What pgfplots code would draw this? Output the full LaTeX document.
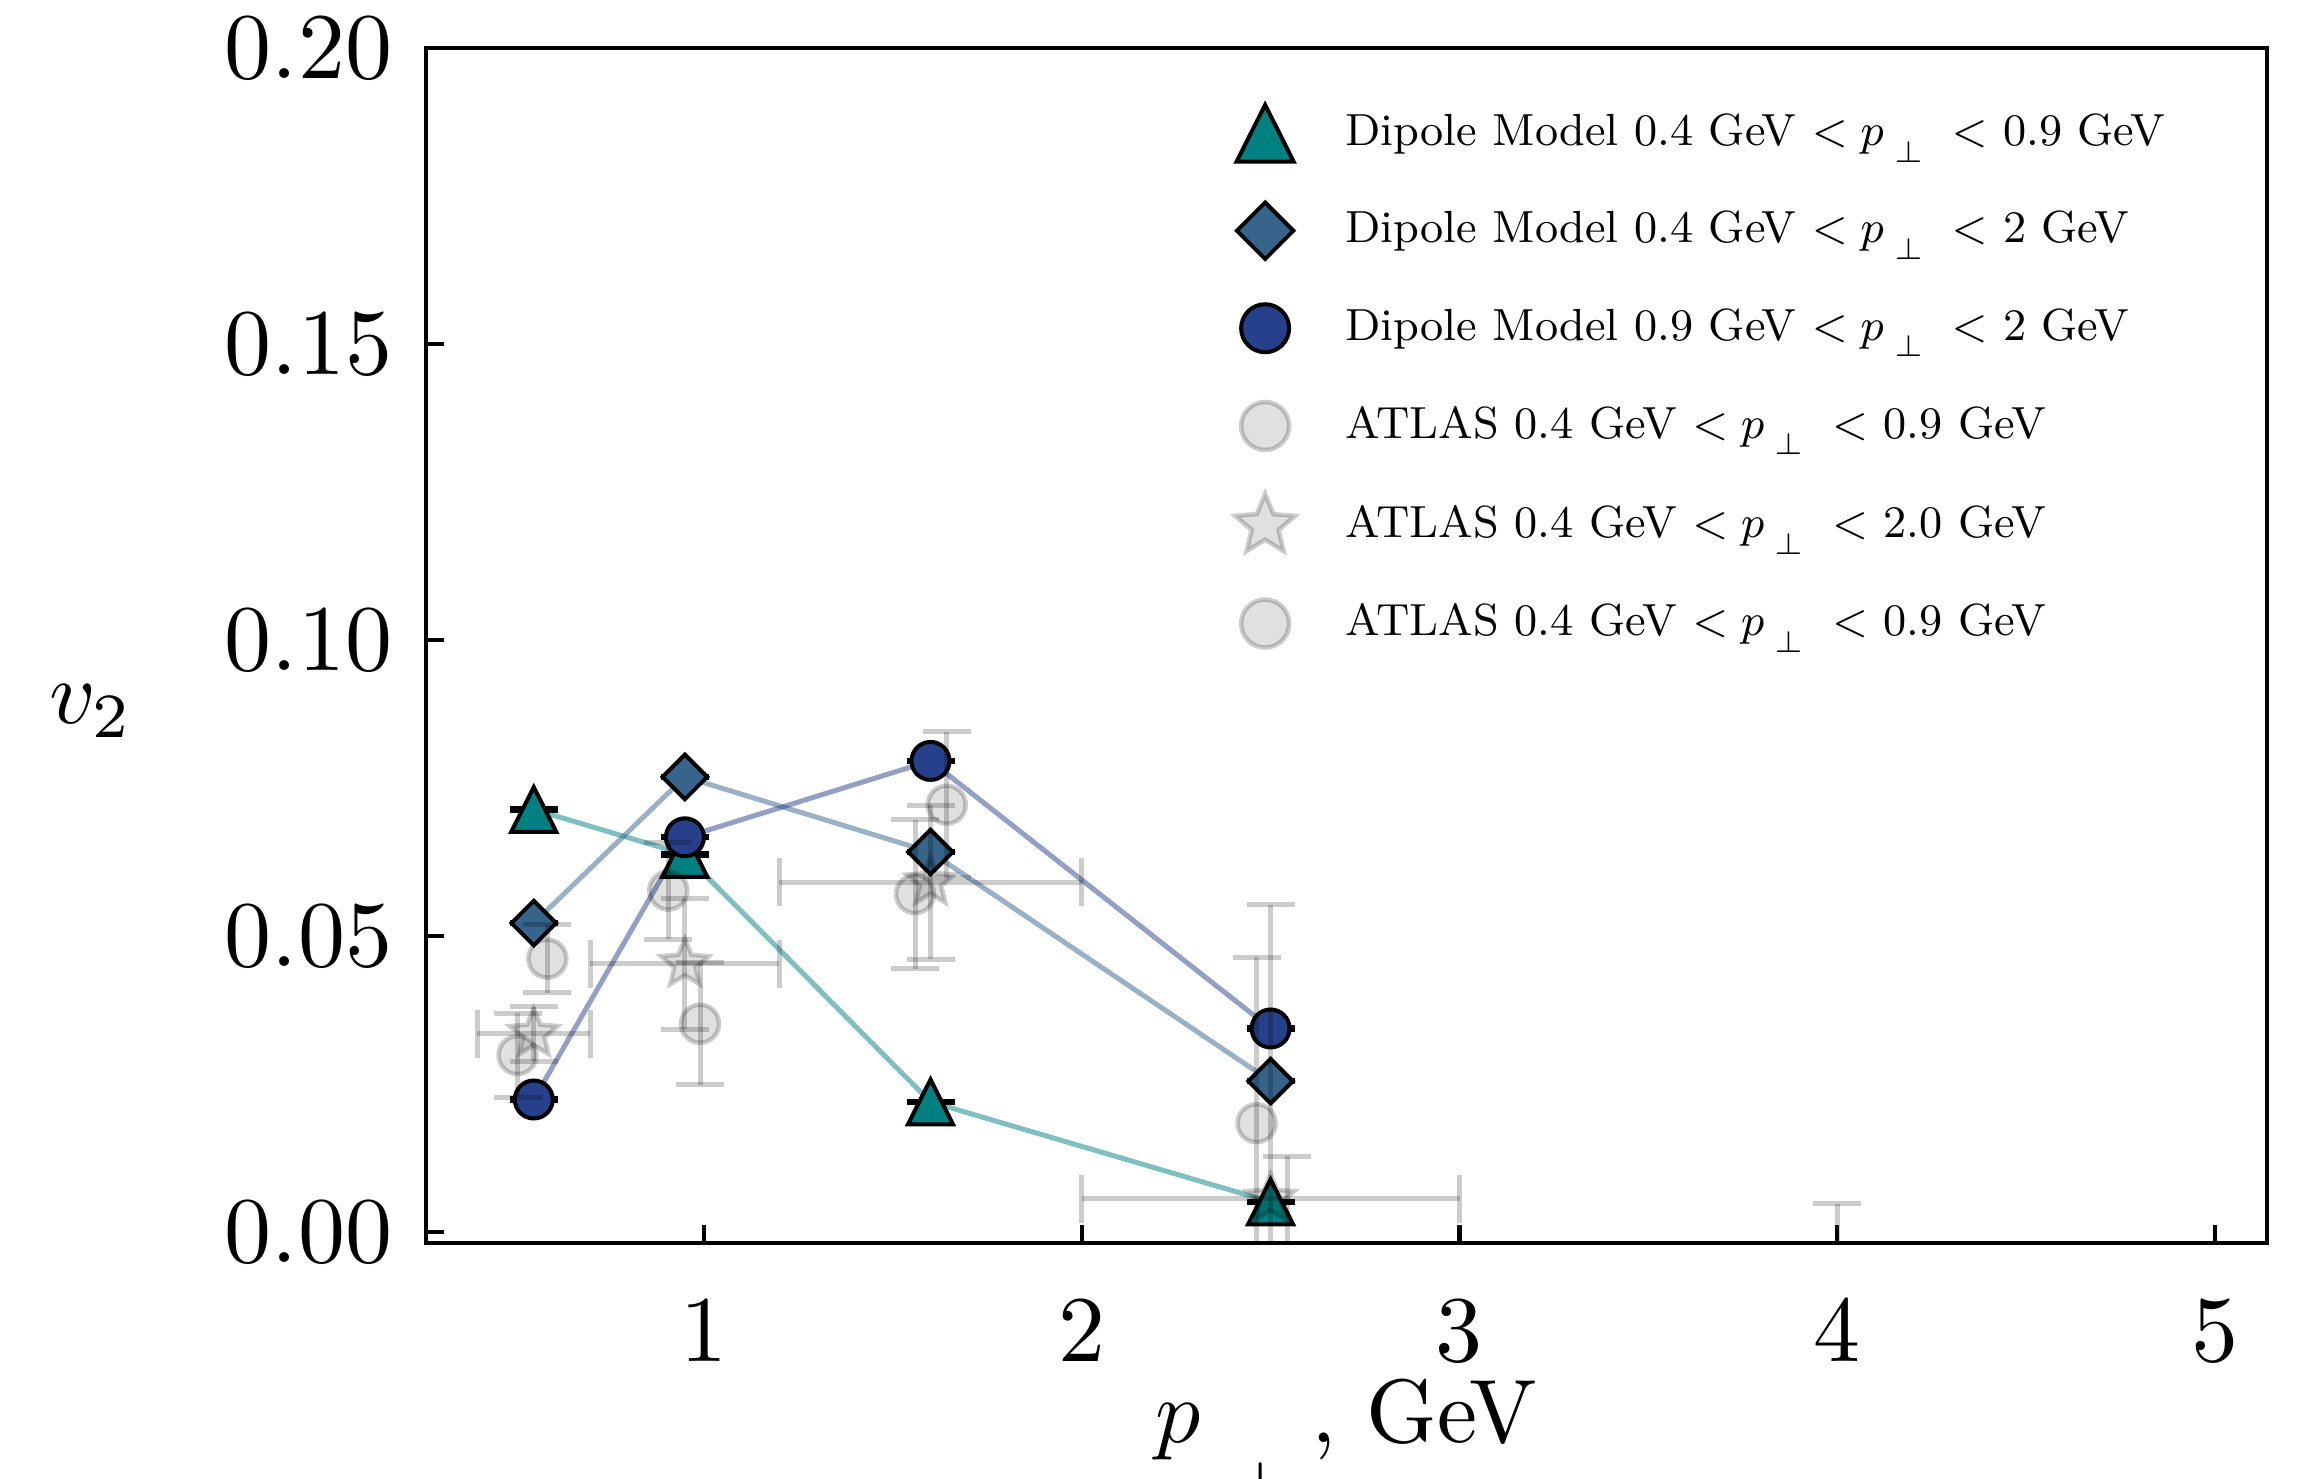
\documentclass[border=0pt]{standalone}
\usepackage{graphicx}
\usepackage{pgfplots}
\pgfplotsset{compat=1.18}
\usetikzlibrary{calc}

\definecolor{dteal}{HTML}{008080}
\definecolor{dsteel}{HTML}{36648B}
\definecolor{dnavy}{HTML}{27408B}

% five-pointed filled star (Plots.jl style)
\pgfdeclareplotmark{pstar}{%
  \pgfpathmoveto{\pgfpointpolar{90}{\pgfplotmarksize}}%
  \pgfpathlineto{\pgfpointpolar{126}{0.45\pgfplotmarksize}}%
  \pgfpathlineto{\pgfpointpolar{162}{\pgfplotmarksize}}%
  \pgfpathlineto{\pgfpointpolar{198}{0.45\pgfplotmarksize}}%
  \pgfpathlineto{\pgfpointpolar{234}{\pgfplotmarksize}}%
  \pgfpathlineto{\pgfpointpolar{270}{0.45\pgfplotmarksize}}%
  \pgfpathlineto{\pgfpointpolar{306}{\pgfplotmarksize}}%
  \pgfpathlineto{\pgfpointpolar{342}{0.45\pgfplotmarksize}}%
  \pgfpathlineto{\pgfpointpolar{18}{\pgfplotmarksize}}%
  \pgfpathlineto{\pgfpointpolar{54}{0.45\pgfplotmarksize}}%
  \pgfpathclose
  \pgfusepathqfillstroke}

\newcommand{\ptr}{$<p_{\;\raisebox{-.6ex}{$\scriptstyle\perp$}}\;<$\ }

\begin{document}
\begin{tikzpicture}
\begin{axis}[
    scale only axis, width=368.3pt, height=239pt,
    xmin=0.264, xmax=5.138, ymin=-0.0019, ymax=0.2,
    xtick={1,2,3,4,5}, ytick={0,0.05,0.1,0.15,0.2},
    scaled y ticks=false,
    xticklabel={\scalebox{1.88}{$\pgfmathprintnumber{\tick}$}},
    yticklabel={\scalebox{1.88}{$\pgfmathprintnumber[fixed,fixed zerofill,precision=2]{\tick}$}},
    ticklabel style={font=\fontsize{10}{12}\selectfont},
    xticklabel style={inner sep=1pt, yshift=-10.4pt},
    yticklabel style={xshift=-3.2pt},
    tick align=inside, xtick pos=bottom, ytick pos=left,
    major tick length=3.6pt,
    every tick/.style={black, line width=0.85pt},
    axis line style={line width=0.86pt},
    clip marker paths=true,
    xlabel={\scalebox{1.8}{$p\hspace{0.35em}{}_{\raisebox{-1.3ex}{$\scriptstyle\perp$}}\hspace{0.2em}$, GeV}},
    xlabel style={font=\fontsize{10}{12}\selectfont, inner sep=0pt, at={(axis description cs:0.5,0)}, anchor=base, yshift=-39.8pt},
    ylabel={\scalebox{1.8}{$v_{2}$}},
    ylabel style={font=\fontsize{10}{12}\selectfont, rotate=-90, at={(axis description cs:0,0.4454)}, anchor=center, xshift=-66.9pt},
    legend image code/.code={\draw[#1] plot coordinates {(0pt,0pt)};},
    legend style={at={(rel axis cs:0.439,0.9545)}, anchor=north west, draw=none, fill=none,
        inner sep=0pt, row sep=7.65pt, column sep=8.1pt,
        font=\fontsize{9}{11}\selectfont},
    legend cell align=left,
]
% legend entries
\addlegendimage{only marks, mark=triangle*, mark size=6.6pt, mark options={fill=dteal, draw=black, line width=0.8pt, yshift=-1.9pt, yscale=1.15}}
\addlegendentry{Dipole Model 0.4 GeV \ptr 0.9 GeV}
\addlegendimage{only marks, mark=square*, mark size=4pt, mark options={fill=dsteel, draw=black, line width=0.8pt, rotate=45}}
\addlegendentry{Dipole Model 0.4 GeV \ptr 2 GeV}
\addlegendimage{only marks, mark=*, mark size=4.8pt, mark options={fill=dnavy, draw=black, line width=0.8pt}}
\addlegendentry{Dipole Model 0.9 GeV \ptr 2 GeV}
\addlegendimage{only marks, mark=*, mark size=4.8pt, mark options={fill=black, fill opacity=0.12, draw=black, draw opacity=0.2, line width=0.9pt}}
\addlegendentry{ATLAS 0.4 GeV \ptr 0.9 GeV}
\addlegendimage{only marks, mark=pstar, mark size=6.3pt, mark options={fill=black, fill opacity=0.12, draw=black, draw opacity=0.2, line width=0.9pt}}
\addlegendentry{ATLAS 0.4 GeV \ptr 2.0 GeV}
\addlegendimage{only marks, mark=*, mark size=4.8pt, mark options={fill=black, fill opacity=0.12, draw=black, draw opacity=0.2, line width=0.9pt}}
\addlegendentry{ATLAS 0.4 GeV \ptr 0.9 GeV}

% connecting lines of the dipole model
\addplot[forget plot, no marks, dteal, opacity=0.5, line width=1pt] coordinates {(0.55,0.0714) (0.95,0.0638) (1.6,0.0220) (2.5,0.0051)};
\addplot[forget plot, no marks, dsteel, opacity=0.5, line width=1pt] coordinates {(0.55,0.0522) (0.95,0.0769) (1.6,0.0642) (2.5,0.0255)};
\addplot[forget plot, no marks, dnavy, opacity=0.5, line width=1pt] coordinates {(0.55,0.0224) (0.95,0.0667) (1.6,0.0796) (2.5,0.0344)};

% dipole model markers
\addplot[forget plot, only marks, mark=triangle*, mark size=5.2pt,
    mark options={fill=dteal, draw=black, line width=0.8pt, yshift=-1.5pt, yscale=1.15},
    error bars/.cd, y dir=both, y explicit,
    error bar style={black, line width=0.8pt},
    error mark options={black, line width=0.8pt, mark size=4.8pt, rotate=90}]
    coordinates {(0.55,0.0714) +- (0,0.0002) (0.95,0.0638) +- (0,0.0002) (1.6,0.0220) +- (0,0.0002) (2.5,0.0051) +- (0,0.0002)};
\addplot[forget plot, only marks, mark=square*, mark size=3.15pt,
    mark options={fill=dsteel, draw=black, line width=0.8pt, rotate=45},
    error bars/.cd, y dir=both, y explicit,
    error bar style={black, line width=0.8pt},
    error mark options={black, line width=0.8pt, mark size=4.8pt, rotate=90}]
    coordinates {(0.55,0.0522) +- (0,0.0002) (0.95,0.0769) +- (0,0.0002) (1.6,0.0642) +- (0,0.0002) (2.5,0.0255) +- (0,0.0002)};
\addplot[forget plot, only marks, mark=*, mark size=3.8pt,
    mark options={fill=dnavy, draw=black, line width=0.8pt},
    error bars/.cd, y dir=both, y explicit,
    error bar style={black, line width=0.8pt},
    error mark options={black, line width=0.8pt, mark size=4.8pt, rotate=90}]
    coordinates {(0.55,0.0224) +- (0,0.0002) (0.95,0.0667) +- (0,0.0002) (1.6,0.0796) +- (0,0.0002) (2.5,0.0344) +- (0,0.0002)};

% ATLAS data
\addplot[forget plot, only marks, mark=*, mark size=3.8pt,
    mark options={fill=black, fill opacity=0.12, draw=black, draw opacity=0.2, line width=0.9pt},
    error bars/.cd, y dir=both, y explicit,
    error bar style={black, opacity=0.2, line width=1pt},
    error mark options={black, opacity=0.2, line width=1pt, mark size=4.8pt, rotate=90}]
    coordinates {(0.507,0.0299) +- (0,0.0071) (0.906,0.0577) +- (0,0.0082) (1.559,0.0571) +- (0,0.0126) (2.463,0.0184) +- (0,0.0280)};
\addplot[forget plot, only marks, mark=pstar, mark size=5pt,
    mark options={fill=black, fill opacity=0.12, draw=black, draw opacity=0.2, line width=0.9pt},
    error bars/.cd, x dir=both, x explicit, y dir=both, y explicit,
    error bar style={black, opacity=0.2, line width=1pt},
    error mark options={black, opacity=0.2, line width=1pt, mark size=4.8pt, rotate=90}]
    coordinates {(0.55,0.0335) +- (0.15,0.0046) (0.95,0.0453) +- (0.25,0.0110) (1.6,0.0591) +- (0.4,0.0130) (2.5,0.0056) +- (0.5,0.0497) (4.0,-0.0070) +- (1.0,0.0118)};
\addplot[forget plot, only marks, mark=*, mark size=3.8pt,
    mark options={fill=black, fill opacity=0.12, draw=black, draw opacity=0.2, line width=0.9pt},
    error bars/.cd, y dir=both, y explicit,
    error bar style={black, opacity=0.2, line width=1pt},
    error mark options={black, opacity=0.2, line width=1pt, mark size=4.8pt, rotate=90}]
    coordinates {(0.586,0.0462) +- (0,0.0058) (0.990,0.0352) +- (0,0.0103) (1.643,0.0722) +- (0,0.0123) (2.544,-0.0060) +- (0,0.0188)};

\coordinate (sw) at (rel axis cs:0,0);
\coordinate (ne) at (rel axis cs:1,1);
\end{axis}
\pgfresetboundingbox
\path[use as bounding box] ($(sw)+(-85.14pt,-46.94pt)$) rectangle ($(ne)+(6.54pt,9.66pt)$);
\end{tikzpicture}
\end{document}
